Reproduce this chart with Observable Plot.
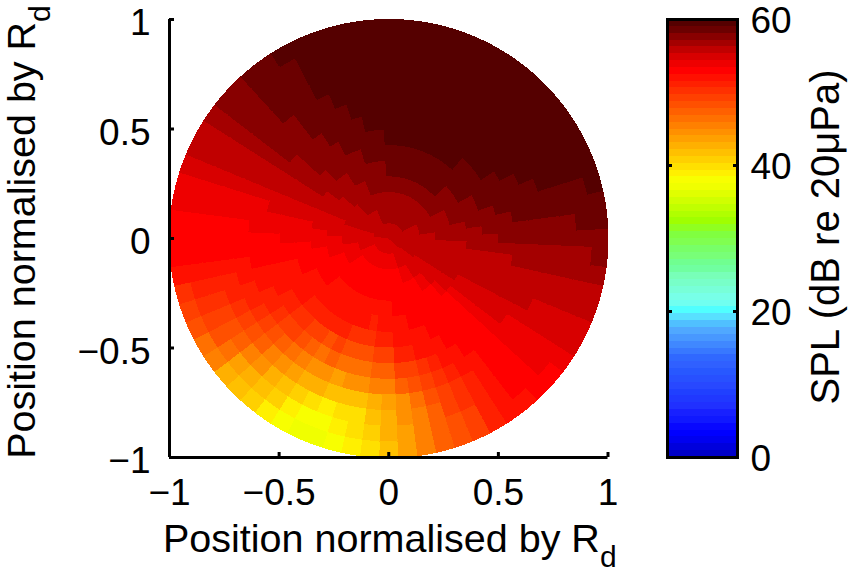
<!DOCTYPE html>
<html><head><meta charset="utf-8">
<script src="https://cdn.jsdelivr.net/npm/d3@7"></script>
<script src="https://cdn.jsdelivr.net/npm/@observablehq/plot@0.6"></script>
<style>
html,body{margin:0;padding:0;background:#fff}
#wrap{position:relative;width:850px;height:579px;overflow:hidden;font-family:"Liberation Sans",Arial,sans-serif;color:#000}
#wrap svg{position:absolute;top:0;overflow:visible;background:none}
.lab{position:absolute;font-size:39.5px;white-space:nowrap;line-height:1}
.lab sub{font-size:30px;vertical-align:-15px;line-height:0}
</style></head><body><div id="wrap"></div>
<script>
// colour bands of the reference colormap, bottom (0 dB) to top (60 dB)
const palette = ["#0000c8","#0000dc","#0000f0","#0000ff","#0808ff","#1018ff","#1820ff","#2030ff","#2038ff","#2040ff","#2848ff","#2850ff","#2858ff","#3060ff","#3068ff","#3878ff","#4088ff","#4898ff","#50a8ff","#50c0ff","#58e0ff","#50ffff","#70fff0","#78ffe8","#78ffd8","#78ffc8","#78ffb8","#70ffa0","#70ff90","#78ff78","#78ff68","#80ff50","#80ff40","#90ff20","#a0ff00","#b0ff00","#c0ff00","#d0ff00","#e0ff00","#f0ff00","#f8ff00","#fff000","#ffe000","#ffd000","#ffc000","#ffb000","#ffa000","#ff9000","#ff8000","#ff7000","#ff6000","#ff5000","#ff4000","#ff3000","#ff2000","#ff1000","#ff0000","#ee0000","#d80000","#c00000","#a40000","#880000","#6b0000","#550000"];
const splMax = 60;
const xyTicks = [-1,-0.5,0,0.5,1];
const barTicks = [0,20,40,60];
const rings = 14;
const sectorStep = 5; // degrees
// SPL colour band read per sector (0 deg = east, counter-clockwise), centre to rim
const splBands = [
[59,59,59,60,60,60,60,61,61,61,61,61,61,61],
[59,59,59,60,60,60,61,61,61,61,61,61,62,62],
[59,59,60,60,60,61,61,61,62,62,62,62,62,62],
[59,59,60,60,61,61,61,62,62,62,62,62,62,63],
[59,59,60,60,61,61,62,62,62,62,63,63,63,63],
[59,59,60,60,61,61,62,62,62,63,63,63,63,63],
[59,60,60,61,61,62,62,62,63,63,63,63,63,63],
[59,60,60,61,61,62,62,63,63,63,63,63,63,63],
[59,60,60,61,61,62,62,63,63,63,63,63,63,63],
[59,60,60,61,62,62,62,63,63,63,63,63,63,63],
[59,60,60,61,62,62,63,63,63,63,63,63,63,63],
[59,60,60,61,62,62,63,63,63,63,63,63,63,63],
[59,60,60,61,62,62,63,63,63,63,63,63,63,63],
[59,60,60,61,62,62,63,63,63,63,63,63,63,63],
[59,60,60,61,62,62,63,63,63,63,63,63,63,63],
[59,60,60,61,62,62,63,63,63,63,63,63,63,63],
[59,60,60,61,62,62,63,63,63,63,63,63,63,63],
[59,60,60,61,62,62,63,63,63,63,63,63,63,63],
[59,60,60,61,62,62,63,63,63,63,63,63,63,63],
[59,60,60,61,61,62,62,63,63,63,63,63,63,63],
[59,60,60,61,61,62,62,63,63,63,63,63,63,63],
[59,60,60,61,61,62,62,62,63,63,63,63,63,63],
[59,60,60,61,61,61,62,62,62,63,63,63,63,63],
[59,59,60,60,61,61,62,62,62,62,63,63,63,63],
[59,59,60,60,61,61,61,62,62,62,62,62,62,63],
[59,59,60,60,60,61,61,61,62,62,62,62,62,62],
[59,59,60,60,60,61,61,61,61,61,62,62,62,62],
[59,59,59,60,60,60,61,61,61,61,61,61,61,61],
[59,59,59,59,60,60,60,60,61,61,61,61,61,61],
[59,59,59,59,59,60,60,60,60,60,60,60,60,60],
[59,59,59,59,59,59,59,59,59,59,59,59,59,59],
[59,59,59,59,59,59,59,59,59,59,59,59,59,59],
[59,59,59,58,58,58,58,58,58,58,58,58,58,58],
[59,58,58,58,58,58,58,58,57,57,57,57,57,57],
[59,58,58,58,58,57,57,57,57,57,57,57,57,57],
[58,58,58,58,57,57,57,57,57,56,56,56,56,56],
[58,58,58,57,57,57,57,56,56,56,56,56,56,56],
[58,58,58,57,57,56,56,56,56,56,56,56,56,56],
[58,58,57,57,56,56,56,56,56,55,55,55,55,55],
[58,58,57,57,56,56,55,55,55,55,54,54,54,53],
[58,58,57,56,56,56,55,55,55,54,54,53,53,52],
[58,57,57,56,56,55,55,55,54,54,53,52,52,51],
[58,57,57,56,56,55,55,54,54,53,52,51,51,49],
[58,57,56,56,56,55,55,54,53,52,51,50,49,48],
[58,57,56,56,55,55,54,53,52,51,50,48,46,45],
[58,57,56,56,55,55,54,53,52,50,48,47,45,44],
[58,57,56,56,55,55,54,52,51,49,47,45,44,43],
[58,57,56,56,55,55,54,52,50,48,46,44,43,41],
[58,57,56,56,55,55,54,51,49,47,45,43,41,40],
[58,57,56,56,55,55,54,52,50,47,45,42,40,39],
[58,57,56,56,55,55,53,51,49,46,44,41,40,39],
[58,57,56,56,55,55,53,51,49,47,44,42,41,40],
[58,57,56,56,55,54,53,51,49,47,44,42,42,41],
[58,57,56,56,55,55,54,52,50,48,45,44,43,42],
[58,57,56,56,55,55,54,52,50,48,46,45,45,44],
[58,57,56,56,56,55,55,54,52,50,47,47,46,46],
[58,57,56,56,56,55,55,54,52,51,49,48,48,48],
[58,57,56,56,56,56,55,55,53,52,51,50,50,50],
[58,58,57,56,56,56,55,55,54,53,52,52,51,51],
[58,58,57,56,56,56,56,55,55,54,53,53,52,52],
[58,58,57,56,56,56,56,56,55,55,54,54,54,54],
[58,58,58,57,56,56,56,56,56,55,55,55,55,55],
[58,58,58,57,56,56,56,56,56,56,56,56,56,55],
[58,58,58,58,57,56,56,56,56,56,56,56,56,56],
[59,58,58,58,58,57,57,57,57,57,57,57,57,56],
[59,59,58,58,58,58,58,58,58,57,57,57,57,57],
[59,59,59,59,59,58,58,58,58,58,58,58,58,58],
[59,59,59,59,59,59,59,59,59,59,58,58,58,58],
[59,59,59,59,59,59,59,59,59,59,59,59,59,59],
[59,59,59,59,59,59,59,59,59,59,59,59,59,59],
[59,59,59,59,59,59,59,59,60,60,60,60,60,60],
[59,59,59,59,59,60,60,60,60,60,60,60,60,61]
];

const bandWidth = splMax / palette.length;
const bandToSpl = b => (b + 0.5) * bandWidth;
const colorScale = {type:"threshold", domain:d3.range(1,palette.length).map(i=>i*bandWidth), range:palette};

// polygon vertices of every polar cell
const cellPoints = [];
splBands.forEach((row,s)=>{
  const a0=(s*sectorStep-sectorStep/2)*Math.PI/180, a1=(s*sectorStep+sectorStep/2)*Math.PI/180;
  row.forEach((band,k)=>{
    const r0=k/rings, r1=(k+1)/rings, id=s+"-"+k, spl=bandToSpl(band);
    const arc=[0,.25,.5,.75,1].map(t=>a0+(a1-a0)*t);
    for(const a of arc) cellPoints.push({id,spl,x:r1*Math.cos(a),y:r1*Math.sin(a)});
    for(const a of arc.slice().reverse()) cellPoints.push({id,spl,x:r0*Math.cos(a),y:r0*Math.sin(a)});
  });
});

const fontSize = 37;
const fmt = d => String(d).replace("-","\u2212");
const main = Plot.plot({
  width:640, height:579, marginLeft:169, marginRight:32.5, marginTop:19, marginBottom:122,
  style:{background:"none",fontFamily:"'Liberation Sans',Arial,sans-serif",color:"#000"},
  x:{domain:[-1,1]}, y:{domain:[-1,1]}, color:colorScale,
  marks:[
    Plot.line(cellPoints,{x:"x",y:"y",z:"id",fill:"spl",stroke:"spl",strokeWidth:1,shapeRendering:"crispEdges"}),
    Plot.axisX({ticks:xyTicks,tickSize:-5,text:null,strokeWidth:3,label:null,anchor:"bottom"}),
    Plot.axisY({ticks:xyTicks,tickSize:-5,text:null,strokeWidth:3,label:null,anchor:"left"}),
    Plot.axisX({ticks:xyTicks,tickSize:0,tickPadding:21,tickFormat:fmt,fontSize,label:null,anchor:"bottom"}),
    Plot.axisY({ticks:xyTicks,tickSize:0,tickPadding:19,dy:4,tickFormat:fmt,fontSize,label:null,anchor:"left"}),
    Plot.ruleY([-1],{stroke:"#000",strokeWidth:3}),
    Plot.ruleX([-1],{stroke:"#000",strokeWidth:3})
  ]
});
main.style.left="0px";
document.getElementById("wrap").appendChild(main);

const levels = palette.map((c,i)=>({i}));
const bar = Plot.plot({
  width:190, height:579, marginLeft:8, marginRight:112, marginTop:19, marginBottom:122,
  style:{background:"none",fontFamily:"'Liberation Sans',Arial,sans-serif",color:"#000"},
  x:{domain:[0,1],axis:null}, y:{domain:[0,splMax]}, color:colorScale,
  marks:[
    Plot.rect(levels,{x1:()=>0,x2:()=>1,y1:d=>d.i*bandWidth,y2:d=>(d.i+1)*bandWidth,fill:d=>bandToSpl(d.i),shapeRendering:"crispEdges",inset:0}),
    Plot.frame({stroke:"#000",strokeWidth:3}),
    Plot.axisY({ticks:barTicks,anchor:"right",tickSize:-5,text:null,strokeWidth:3,label:null}),
    Plot.axisY({ticks:barTicks,anchor:"left",tickSize:-5,text:null,strokeWidth:3,label:null}),
    Plot.axisY({ticks:barTicks,anchor:"right",tickSize:0,tickPadding:13,dy:2,fontSize,label:null,textAnchor:"start"})
  ]
});
bar.style.left="659px";
document.getElementById("wrap").appendChild(bar);

const wrap=document.getElementById("wrap");
function lab(html,css){const d=document.createElement("div");d.className="lab";d.innerHTML=html;d.style.cssText+=css;wrap.appendChild(d);}
lab("Position normalised by R<sub>d</sub>","left:163px;top:519px;");
lab("Position normalised by R<sub>d</sub>","left:22px;top:232px;transform:translate(-50%,-50%) rotate(-90deg);");
lab("SPL (dB re 20\u03bcPa)","left:825px;top:237px;font-size:40px;transform:translate(-50%,-50%) rotate(-90deg);");
</script></body></html>
